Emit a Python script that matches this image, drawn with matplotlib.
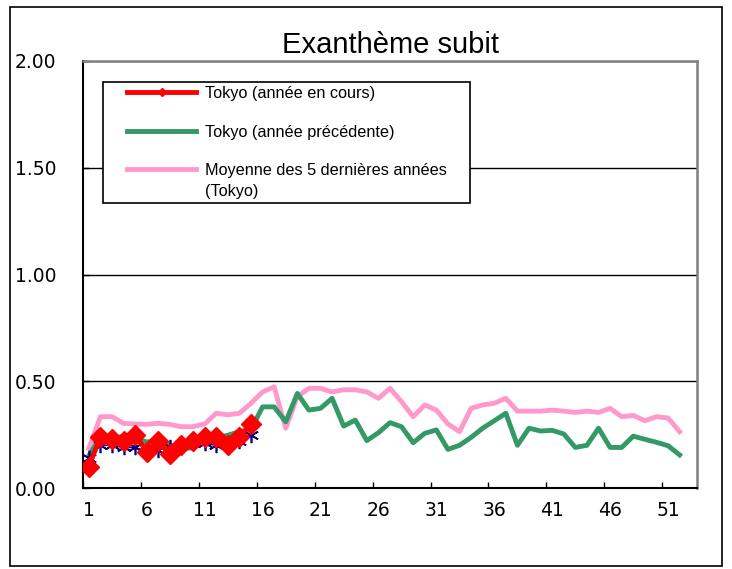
import numpy as np
import matplotlib
matplotlib.use('Agg')
import matplotlib.pyplot as plt
from matplotlib.patches import Rectangle
from matplotlib.lines import Line2D
from matplotlib.legend_handler import HandlerLine2D

# -------- DATA --------
weeks = list(range(1, 53))

# current year (red diamonds), weeks 1-15
current = [0.10, 0.24, 0.23, 0.22, 0.25, 0.17, 0.22, 0.16, 0.20, 0.22,
           0.24, 0.24, 0.20, 0.24, 0.30]

# unlabelled navy series (asterisks), weeks 1-15
navy = [0.14, 0.20, 0.20, 0.19, 0.19, 0.17, 0.18, 0.19, 0.20, 0.21,
        0.21, 0.20, 0.20, 0.22, 0.25]

# previous year, weeks 1-52
previous = [0.15, 0.24, 0.235, 0.24, 0.235, 0.215, 0.225, 0.20, 0.187, 0.187,
            0.23, 0.235, 0.247, 0.264, 0.275, 0.38, 0.38, 0.31, 0.443, 0.365,
            0.373, 0.42, 0.29, 0.318, 0.222, 0.259, 0.306, 0.287, 0.212, 0.256,
            0.272, 0.181, 0.20, 0.237, 0.28, 0.315, 0.35, 0.20, 0.28, 0.267,
            0.27, 0.253, 0.19, 0.20, 0.28, 0.19, 0.19, 0.243, 0.228, 0.214,
            0.198, 0.155]

# 5 year average, weeks 1-52
average5 = [0.186, 0.334, 0.334, 0.303, 0.30, 0.298, 0.303, 0.298, 0.287, 0.287,
            0.30, 0.35, 0.343, 0.35, 0.397, 0.45, 0.474, 0.28, 0.428, 0.467,
            0.467, 0.45, 0.46, 0.46, 0.45, 0.42, 0.467, 0.404, 0.334, 0.389,
            0.365, 0.30, 0.264, 0.373, 0.389, 0.397, 0.42, 0.36, 0.36, 0.36,
            0.365, 0.36, 0.354, 0.36, 0.354, 0.373, 0.334, 0.34, 0.315, 0.334,
            0.328, 0.264]

labels = ['Tokyo (année en cours)',
          'Tokyo (année précédente)',
          'Moyenne des 5 dernières années\n(Tokyo)']
title = 'Exanthème subit'
yticks = [0, 0.5, 1.0, 1.5, 2.0]
# -------- DATA. --------

# -------- CREATE THE FIGURE --------
fig = plt.figure(figsize=(7.32, 5.69), dpi=100, facecolor='w')
ax = fig.add_axes([83/732, 1-488/569, 614/732, 427/569])

# outer frame around the whole chart
fig.patches.append(Rectangle((10/732, 1-566/569), 712/732, 559/569,
                             transform=fig.transFigure, fill=False,
                             edgecolor='black', linewidth=1.2))

ax.plot(weeks, average5, color='#FF99CC', linewidth=3.5, zorder=2, label=labels[2])
ax.plot(weeks, previous, color='#339966', linewidth=3.5, zorder=3, label=labels[1])
ax.plot(range(1, len(navy)+1), navy, color='#000080', linewidth=1.2,
        marker=(6, 2, 0), markersize=11, markeredgewidth=1.2, zorder=4)
ax.plot(range(1, len(current)+1), current, color='#FF0000', linewidth=3.5,
        marker='D', markersize=10.5, zorder=5, label=labels[0])

# ---- axes styling
ax.set_xlim(0.5, 53.5)
ax.set_ylim(0, 2)
ax.set_yticks(yticks)
ax.set_yticklabels(['%.2f' % v for v in yticks])
ax.set_xticks(np.arange(1, 53, 5))
ax.set_xticks(np.arange(0.5, 54, 5), minor=True)
ax.tick_params(axis='x', which='major', length=0, pad=9, labelsize=13.5)
ax.tick_params(axis='x', which='minor', direction='in', length=4, width=1)
ax.tick_params(axis='y', direction='in', length=4, width=1, pad=19, labelsize=13.5)

for t in ax.get_xticklabels() + ax.get_yticklabels():
    t.set_fontfamily('DejaVu Sans')

ax.grid(axis='y', color='black', linewidth=1)
ax.set_axisbelow(True)
ax.spines['left'].set_linewidth(1.5)
ax.spines['bottom'].set_linewidth(1.5)
ax.spines['top'].set_color('#808080')
ax.spines['right'].set_color('#808080')
ax.spines['top'].set_linewidth(1.8)
ax.spines['right'].set_linewidth(1.8)

fig.text(391/732, 1-45/569, title, ha='center', va='center', fontsize=21,
         family='Liberation Sans')

# ---- legend
h, l = ax.get_legend_handles_labels()
order = [2, 1, 0]
leg = ax.legend([h[i] for i in order], [l[i] for i in order],
                loc='upper left', bbox_to_anchor=(0.0326, 0.951, 0.598, 0.0),
                mode='expand', prop={'family': 'Liberation Sans', 'size': 11.7},
                handlelength=5.5, handletextpad=0.5, labelspacing=1.45,
                markerscale=0.4, fancybox=False, framealpha=1, edgecolor='black',
                borderpad=0.25, borderaxespad=0,
                handler_map={Line2D: HandlerLine2D(xpad=1.2)})
leg.get_frame().set_linewidth(1.2)
for t in leg.get_texts():
    t.set_linespacing(1.45)
# two-line label: line sample sits next to the first line of text
leg._legend_handle_box.get_children()[0].get_children()[2].align = 'top'

plt.savefig('out.png', dpi=100)
plt.close()
